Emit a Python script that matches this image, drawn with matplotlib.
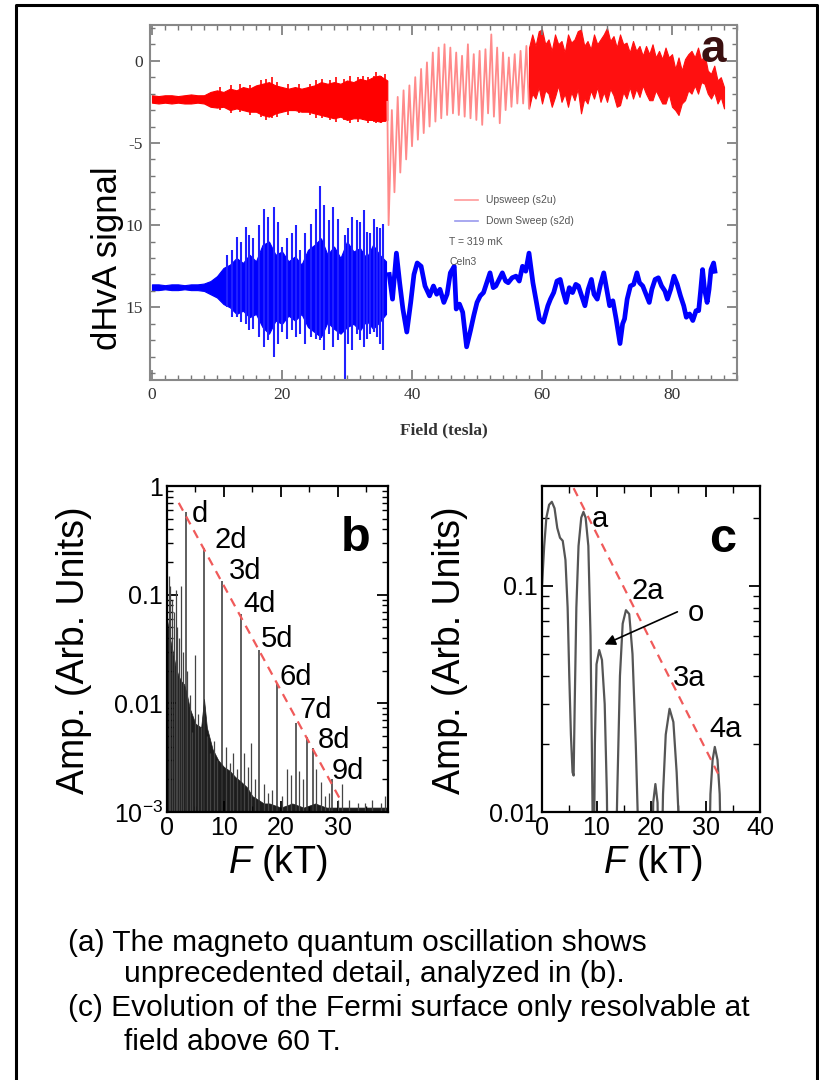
import matplotlib
matplotlib.use("Agg")
from matplotlib import pyplot as plt
from matplotlib.lines import Line2D
from matplotlib.ticker import MultipleLocator, FixedLocator, FixedFormatter, NullFormatter, LogLocator

plt.rcParams['font.family'] = ['Liberation Sans', 'DejaVu Sans']
plt.rcParams['mathtext.fontset'] = 'custom'
plt.rcParams['mathtext.rm'] = 'Liberation Sans'
plt.rcParams['mathtext.it'] = 'Liberation Sans:italic'

############### panel a : dHvA signal vs field
# upsweep, low field noisy band (envelopes)
up_low_x = [0, 1, 2, 3, 4, 5, 6, 7, 8, 9, 10, 11, 12, 13, 14, 15, 16, 17, 18, 19, 20, 21, 22, 23, 24, 25, 26,
            27, 28, 29, 30, 31, 32, 33, 34, 35, 36.2]
up_low_hi = [-2.1, -2.15, -2.1, -2.1, -2.15, -2.1, -2.05, -2.1, -2.1, -1.9, -1.8, -1.9, -1.7, -1.8, -1.6, -1.7, -1.5,
             -1.4, -1.3, -1.5, -1.6, -1.7, -1.6, -1.7, -1.6, -1.5, -1.3, -1.4, -1.3, -1.4, -1.2, -1.3, -1.1, -1.2, -1.0, -0.9, -1.2]
up_low_lo = [-2.55, -2.6, -2.55, -2.6, -2.55, -2.6, -2.6, -2.55, -2.6, -2.8, -2.85, -2.8, -3.0, -2.9, -3.0, -3.1, -3.1,
             -3.3, -3.4, -3.2, -3.1, -3.0, -3.0, -3.1, -3.1, -3.2, -3.3, -3.4, -3.5, -3.4, -3.6, -3.5, -3.5, -3.6, -3.6, -3.7, -3.6]
red_spk_x = [10.5, 12.2, 13.6, 15.1, 16.8, 17.6, 18.4, 19.3, 21.0, 22.6, 24.3, 25.2, 26.1, 27.4, 28.3, 29.6, 30.4,
             31.7, 32.5, 33.3, 34.1, 34.5, 35.2, 35.8]
red_spk_hi = [-1.6, -1.5, -1.4, -1.5, -1.2, -1.1, -1.0, -1.3, -1.4, -1.4, -1.4, -1.2, -1.1, -1.2, -1.0, -1.1, -0.9,
              -1.0, -0.9, -1.0, -0.9, -0.7, -0.9, -0.8]
red_spk_lo = [-3.0, -3.2, -3.1, -3.3, -3.4, -3.6, -3.5, -3.4, -3.3, -3.2, -3.3, -3.5, -3.5, -3.6, -3.7, -3.6, -3.8,
              -3.7, -3.6, -3.8, -3.7, -3.8, -3.8, -3.7]
# upsweep, sawtooth after the jump
pink_x = [36.2, 36.4, 36.9, 37.3, 37.8, 38.2, 38.7, 39.1, 39.6, 40.0, 40.5, 40.9, 41.4, 41.8, 42.3, 42.7,
          43.2, 43.6, 44.1, 44.5, 45.0, 45.4, 45.9, 46.3, 46.8, 47.2, 47.7, 48.1, 48.6, 49.0, 49.5, 49.9,
          50.4, 50.8, 51.3, 51.7, 52.2, 52.6, 53.1, 53.5, 54.0, 54.4, 54.9, 55.3, 55.8, 56.2, 56.7, 57.1, 57.6, 58.0]
pink_y = [-2.5, -10.0, -3.0, -8.0, -2.2, -6.8, -1.8, -6.0, -1.5, -5.2, -1.0, -4.8, -0.5, -4.4, -0.1, -4.0,
          0.5, -3.7, 0.8, -3.5, 1.0, -3.3, 0.8, -3.2, 0.5, -3.3, 0.3, -3.4, 1.0, -3.5, 0.4, -3.6,
          0.6, -3.9, 0.7, -3.2, 1.6, -3.4, 0.8, -3.8, 0.5, -3.0, 0.2, -2.8, 0.4, -2.6, 0.6, -2.6, 0.9, -2.9]
# upsweep, high field band
up_high_x = [58, 58.5, 59, 59.5, 60, 60.5, 61, 61.5, 62, 62.5, 63, 63.5, 64, 64.5, 65, 65.5, 66, 66.5, 67, 67.5,
             68, 68.5, 69, 69.5, 70, 70.5, 71, 71.5, 72, 72.5, 73, 73.5, 74, 74.5, 75, 75.5, 76, 76.5, 77, 77.5,
             78, 78.5, 79, 79.5, 80, 80.5, 81, 81.5, 82, 82.5, 83, 83.5, 84, 84.5, 85, 85.5, 86, 86.5, 87, 87.5, 88]
up_high_hi = [0.8, 1.6, 0.9, 1.8, 1.9, 1.0, 1.3, 0.6, 1.6, 1.0, 1.2, 0.5, 1.6, 1.1, 1.3, 1.8, 1.9, 0.9, 1.2, 0.7,
              1.6, 1.0, 1.3, 1.6, 2.0, 1.2, 1.5, 0.8, 1.6, 1.0, 1.1, 0.5, 1.2, 0.6, 0.9, 0.3, 0.9, 0.4, 1.0, 0.2,
              0.6, 0.1, 0.8, 0.2, 0.4, -0.5, 0.2, -0.6, 0.1, 0.4, 0.6, 0.2, 0.8, 0.0, 0.4, -0.6, -0.8, -0.3, -1.2, -1.0, -1.6]
up_high_lo = [-2.9, -2.0, -2.3, -1.6, -2.6, -1.8, -2.0, -2.8, -2.2, -1.5, -2.5, -2.0, -2.8, -1.9, -2.4, -1.7, -3.2, -2.3, -2.6, -1.8,
              -2.3, -1.6, -2.5, -1.9, -2.5, -1.7, -2.1, -2.8, -2.7, -1.9, -2.3, -1.6, -2.3, -1.7, -2.2, -1.5, -2.0, -2.4, -2.4, -1.8,
              -2.2, -2.6, -2.6, -2.0, -2.8, -3.0, -3.3, -2.6, -2.4, -1.8, -2.0, -1.5, -2.0, -1.3, -1.4, -2.0, -2.3, -1.9, -2.6, -2.2, -2.9]

# downsweep, low field core band
dn_low_x = [0, 1, 2, 3, 4, 5, 6, 7, 8, 9, 10, 11, 12, 13, 14, 15, 16, 17, 18, 19, 20, 21, 22, 23, 24, 25, 26, 27,
            28, 29, 30, 31, 32, 33, 34, 35, 36]
dn_low_hi = [-13.6, -13.6, -13.65, -13.6, -13.6, -13.65, -13.6, -13.6, -13.55, -13.4, -13.1, -12.6, -12.4, -12.0, -12.3,
             -11.8, -12.2, -11.2, -11.0, -11.8, -11.6, -12.2, -11.9, -12.4, -11.5, -11.2, -10.8, -11.8, -11.3, -12.0, -11.0,
             -11.6, -11.4, -12.0, -11.2, -11.8, -12.2]
dn_low_lo = [-13.95, -13.95, -13.9, -13.95, -13.95, -13.9, -13.95, -13.95, -14.0, -14.2, -14.4, -14.8, -15.0, -15.4, -15.2,
             -15.6, -15.4, -16.2, -16.6, -15.8, -16.0, -15.5, -15.8, -15.4, -16.2, -16.5, -16.8, -15.9, -16.3, -16.6, -16.2,
             -16.0, -16.4, -15.8, -16.3, -15.9, -15.4]
# downsweep, large excursions
spk_x = [11.5, 12.3, 13.1, 13.7, 14.4, 15.0, 15.6, 16.4, 17.3, 17.8, 18.7, 19.4, 20.0, 20.7, 21.5, 22.1, 22.8, 23.5,
         24.4, 25.2, 25.9, 26.5, 27.2, 27.9, 28.6, 29.7, 30.2, 30.8, 31.5, 32.0, 32.6, 33.1, 33.6, 34.1, 34.6, 35.1, 35.6]
spk_hi = [-11.8, -11.5, -10.7, -11.0, -10.1, -10.6, -10.8, -10.0, -9.0, -9.5, -8.9, -9.8, -11.3, -10.8, -10.5, -10.0, -11.5, -10.5,
          -9.9, -9.0, -7.6, -8.8, -9.7, -8.9, -9.6, -10.6, -10.2, -9.5, -9.7, -9.8, -9.1, -10.4, -10.5, -9.6, -10.1, -10.2, -9.9]
spk_lo = [-15.0, -15.6, -15.6, -15.9, -16.0, -16.4, -16.3, -16.8, -17.4, -17.0, -18.0, -17.2, -16.5, -16.9, -16.4, -16.8, -16.6, -17.2,
          -16.8, -16.9, -17.0, -17.6, -16.6, -17.4, -17.0, -19.4, -17.2, -17.6, -16.6, -17.0, -17.4, -16.9, -16.6, -16.5, -16.8, -17.2, -17.6]
# downsweep, high field trace
blue_x = [36.5, 37.0, 37.6, 38.1, 38.6, 39.2, 39.8, 40.3, 40.8, 41.4, 42.0, 42.7, 43.3, 43.8, 44.3, 44.9, 45.4,
          45.9, 46.5, 46.8, 47.3, 47.8, 48.4, 49.0, 49.5, 50.0, 50.5, 51.0, 51.5, 52.0, 52.5, 52.9, 53.4,
          53.9, 54.4, 54.8, 55.4, 56.0, 56.5, 57.0, 57.5, 58.0, 58.6, 59.1, 59.6, 60.2, 60.9, 61.3, 61.8,
          62.3, 62.8, 63.2, 63.7, 64.2, 64.7, 65.2, 65.6, 66.1, 66.6, 67.1, 67.6, 68.0, 68.5, 69.0, 69.5,
          70.0, 70.4, 70.9, 71.4, 72.0, 72.4, 72.7, 73.1, 73.6, 74.1, 74.6, 75.0, 75.5, 76.0, 76.5, 76.9,
          77.4, 77.9, 78.4, 78.9, 79.3, 79.8, 80.3, 80.8, 81.3, 81.8, 82.2, 82.7, 83.2, 83.7, 84.1, 84.4,
          84.7, 85.0, 85.4, 85.7, 86.0, 86.4, 86.6]
blue_y = [-13.0, -14.5, -11.7, -13.5, -15.1, -16.5, -14.7, -13.0, -12.3, -12.5, -13.7, -14.3, -13.7, -14.2, -13.9, -14.7, -14.2,
          -12.9, -12.5, -15.1, -14.8, -15.3, -17.4, -16.4, -15.5, -14.7, -14.3, -14.1, -13.5, -12.9, -13.8, -13.7, -13.3,
          -12.9, -13.4, -13.5, -13.2, -13.1, -13.4, -12.5, -12.8, -11.7, -13.5, -14.6, -15.7, -15.9, -14.9, -14.5, -14.1,
          -13.4, -13.3, -14.0, -14.7, -13.8, -14.1, -13.6, -13.7, -14.3, -14.9, -13.9, -13.3, -14.2, -14.5, -13.6, -12.9,
          -14.0, -14.9, -14.6, -15.7, -17.2, -16.0, -15.7, -14.5, -13.7, -13.6, -12.9, -13.5, -13.7, -14.2, -14.7, -13.9,
          -13.3, -13.2, -13.7, -14.0, -14.5, -13.9, -13.1, -13.6, -14.3, -14.9, -15.6, -15.4, -15.8, -15.2, -15.2, -14.0,
          -12.7, -13.9, -14.7, -13.9, -12.7, -12.3, -12.8]

############### panel b : FFT spectrum
harm_F = [3.25, 6.5, 9.7, 12.95, 16.2, 19.4, 22.6, 24.6, 25.6, 28.9]
harm_A = [0.58, 0.27, 0.135, 0.066, 0.031, 0.015, 0.0066, 0.0049, 0.0039, 0.002]
noise_F = [0.3, 0.6, 0.9, 1.2, 1.5, 1.8, 2.1, 2.5, 2.8, 3.6, 4.0, 4.4, 5.0, 5.5, 6.0, 7.0, 7.6, 8.2, 8.8,
           10.3, 11.0, 11.6, 12.3, 13.6, 14.2, 14.8, 15.4, 17.0, 17.8, 18.5, 20.2, 21.0, 21.7, 23.2, 23.8,
           26.2, 27.0, 27.8, 28.4, 30.0, 30.8, 32.0, 33.5, 34.8, 36.0, 37.5, 38.3]
noise_A = [0.15, 0.12, 0.09, 0.07, 0.11, 0.05, 0.04, 0.12, 0.03, 0.02, 0.012, 0.0055, 0.028, 0.008, 0.006, 0.005, 0.0035, 0.0045, 0.003,
           0.004, 0.0028, 0.0035, 0.0025, 0.0035, 0.0026, 0.0043, 0.002, 0.0018, 0.0015, 0.0016, 0.0014, 0.0025, 0.0022, 0.0024, 0.002,
           0.0025, 0.0019, 0.0014, 0.0015, 0.0013, 0.0018, 0.0013, 0.0012, 0.0012, 0.0013, 0.0012, 0.0014]
floor_F = [0, 0.5, 1, 1.5, 2, 2.5, 3, 3.5, 4, 5, 6, 6.5, 7, 8, 9, 10, 11, 12, 13, 14, 15, 16, 17, 18, 20, 22, 24, 26, 28, 30, 32, 34, 36, 38, 39]
floor_A = [0.06, 0.04, 0.03, 0.022, 0.018, 0.016, 0.015, 0.012, 0.009, 0.0065, 0.006, 0.011, 0.006, 0.0038, 0.003, 0.0026, 0.0024, 0.0021,
           0.0019, 0.0017, 0.0014, 0.0013, 0.0012, 0.0012, 0.0011, 0.0012, 0.0011, 0.0012, 0.0011, 0.0011, 0.0011, 0.0011, 0.0011, 0.0011, 0.0011]
b_labels = ['d', '2d', '3d', '4d', '5d', '6d', '7d', '8d', '9d']
b_lab_F = [5.8, 11.2, 13.8, 16.2, 19.4, 22.6, 26.2, 29.4, 31.8]
b_lab_A = [0.55, 0.32, 0.166, 0.082, 0.039, 0.0175, 0.0086, 0.0046, 0.0024]

############### panel c : FFT above 60 T
c_F = [0.0, 0.4, 0.8, 1.3, 1.8, 2.3, 2.8, 3.3, 3.8, 4.3, 4.7, 5.0, 5.3, 5.6, 5.8, 6.0, 6.3, 6.7, 7.2, 7.6, 8.0, 8.5, 8.9, 9.2, 9.4,
       9.5, 9.7, 10.0, 10.5, 11.0, 11.5, 11.9, 12.1,
       13.5, 13.8, 14.3, 14.8, 15.4, 16.0, 16.6, 17.2, 17.6, 17.8,
       20.2, 20.4, 20.8, 21.2, 21.4,
       21.9, 22.2, 22.7, 23.4, 24.1, 24.7, 25.1, 25.3,
       30.6, 30.9, 31.3, 31.7, 32.2, 32.6, 32.9]
c_A = [0.10, 0.15, 0.20, 0.228, 0.235, 0.22, 0.18, 0.163, 0.158, 0.13, 0.08, 0.04, 0.022, 0.015, 0.0145, 0.03, 0.08, 0.15, 0.2, 0.212, 0.2, 0.15, 0.06, 0.015, 0.005,
       0.005, 0.02, 0.045, 0.052, 0.047, 0.03, 0.012, 0.005,
       0.005, 0.012, 0.04, 0.068, 0.078, 0.075, 0.05, 0.02, 0.009, 0.005,
       0.005, 0.011, 0.0133, 0.011, 0.005,
       0.005, 0.012, 0.022, 0.0286, 0.025, 0.015, 0.009, 0.005,
       0.005, 0.012, 0.017, 0.0194, 0.017, 0.012, 0.005]
c_labels = ['a', '2a', '3a', '4a']
c_lab_F = [10.6, 19.4, 27.0, 33.6]
c_lab_A = [0.197, 0.095, 0.039, 0.0233]

caption = ["(a) The magneto quantum oscillation shows",
           "unprecedented detail, analyzed in (b).",
           "(c) Evolution of the Fermi surface only resolvable at",
           "field above 60 T."]

fig = plt.figure(figsize=(8.19, 10.8), dpi=100)

# outer frame
fig.add_artist(Line2D([0.0195, 0.0195, 0.998, 0.998], [0.0, 0.9954, 0.9954, 0.0], color='black', lw=2.2))

########## a
ax = fig.add_axes([0.1832, 0.6481, 0.7167, 0.3287])
ax.fill_between(up_low_x, up_low_lo, up_low_hi, color='#ff0000', lw=0.8)
ax.vlines(red_spk_x, red_spk_lo, red_spk_hi, color='#ff0000', lw=1.2)
ax.plot(pink_x, pink_y, color='#ff8a8a', lw=1.3)
ax.fill_between(up_high_x, up_high_lo, up_high_hi, color='#ff1010', lw=0.8)
ax.fill_between(dn_low_x, dn_low_lo, dn_low_hi, color='#0000ff', lw=0.8)
ax.vlines(spk_x, spk_lo, spk_hi, color='#2020ff', lw=1.5)
ax.plot(blue_x, blue_y, color='#0000ff', lw=3.4)

# legend drawn by hand
ax.plot([46.6, 50.2], [-8.47, -8.47], color='#ff9a9a', lw=1.2)
ax.plot([46.6, 50.2], [-9.75, -9.75], color='#9a9aee', lw=1.2)
ax.text(51.4, -8.47, 'Upsweep (s2u)', fontsize=7.5, color='#555555', va='center')
ax.text(51.4, -9.75, 'Down Sweep (s2d)', fontsize=7.5, color='#555555', va='center')
ax.text(45.7, -11.0, 'T = 319 mK', fontsize=7.5, color='#555555', va='center')
ax.text(45.7, -12.25, 'Celn3', fontsize=7.5, color='#555555', va='center')
ax.text(86.3, 0.65, 'a', fontsize=33, fontweight='bold', color='#3b1010', ha='center', va='center')

ax.set_xlim(-0.3, 90)
ax.set_ylim(-19.42, 2.17)
ax.xaxis.set_major_locator(MultipleLocator(20))
ax.xaxis.set_minor_locator(MultipleLocator(2))
ax.yaxis.set_major_locator(FixedLocator([0, -5, -10, -15]))
ax.yaxis.set_major_formatter(FixedFormatter(['0', '-5', '10', '15']))
ax.yaxis.set_minor_locator(MultipleLocator(1))
ax.tick_params(which='both', direction='in', top=True, right=True, color='#777777')
ax.tick_params(which='major', length=7, width=1.2, labelsize=12.5, labelcolor='#333333', pad=5)
ax.tick_params(which='minor', length=3.5, width=1.0)
for lab in ax.get_xticklabels() + ax.get_yticklabels():
    lab.set_family('Liberation Serif')
for s in ax.spines.values():
    s.set_color('#888888')
    s.set_linewidth(1.5)
ax.set_xlabel('Field (tesla)', family='Liberation Serif', fontweight='bold', fontsize=12.5, color='#333333', labelpad=14)
fig.text(108 / 819, 1 - 258 / 1080, 'dHvA signal', rotation=90, fontsize=25, ha='center', va='center')

########## b
bx = fig.add_axes([0.2039, 0.2481, 0.2698, 0.3019])
bx.set_yscale('log')
bx.fill_between(floor_F, 1e-4, floor_A, color='#1c1c1c', lw=0.5)
bx.vlines(noise_F, 1e-4, noise_A, color='#444444', lw=0.9)
bx.vlines(harm_F, 1e-4, harm_A, color='#333333', lw=1.1)
bx.plot([2.06, 30.3], [0.70, 0.00134], color='#f05a5a', lw=1.6, dashes=(4, 3))
for lab, f, a in zip(b_labels, b_lab_F, b_lab_A):
    bx.text(f, a, lab, fontsize=21, ha='center', va='center')
bx.text(33.2, 0.33, 'b', fontsize=35, fontweight='bold', ha='center', va='center')
bx.set_xlim(0, 38.8)
bx.set_ylim(1e-3, 1)
bx.xaxis.set_major_locator(MultipleLocator(10))
bx.xaxis.set_minor_locator(MultipleLocator(5))
bx.yaxis.set_major_locator(FixedLocator([1e-3, 1e-2, 1e-1, 1]))
bx.yaxis.set_major_formatter(FixedFormatter([r'$\mathregular{10^{-3}}$', '0.01', '0.1', '1']))
bx.yaxis.set_minor_locator(LogLocator(base=10, subs=range(2, 10)))
bx.yaxis.set_minor_formatter(NullFormatter())
bx.tick_params(which='both', direction='in', top=True, right=True)
bx.tick_params(which='major', length=8, width=1.3, labelsize=18, pad=3)
bx.tick_params(which='minor', length=4, width=1.0)
for s in bx.spines.values():
    s.set_linewidth(1.6)
bx.set_xlabel(r'$\mathit{F}$ (kT)', fontsize=27)
bx.set_ylabel('Amp. (Arb. Units)', fontsize=27)
bx.xaxis.set_label_coords(0.5, -0.095)
bx.yaxis.set_label_coords(-0.34, 0.497)

########## c
cx = fig.add_axes([0.6618, 0.2481, 0.2662, 0.3019])
cx.set_yscale('log')
cx.plot(c_F, c_A, color='#555555', lw=1.6)
cx.plot([5.8, 32.6], [0.27, 0.0143], color='#f05a5a', lw=1.6, dashes=(4, 3))
for lab, f, a in zip(c_labels, c_lab_F, c_lab_A):
    cx.text(f, a, lab, fontsize=21, ha='center', va='center')
cx.text(28.2, 0.076, 'o', fontsize=21, ha='center', va='center')
cx.annotate('', xy=(11.0, 0.0544), xytext=(25.3, 0.0776),
            arrowprops=dict(arrowstyle='-|>', color='black', lw=1.2, mutation_scale=16))
cx.text(33.2, 0.16, 'c', fontsize=35, fontweight='bold', ha='center', va='center')
cx.set_xlim(0, 40)
cx.set_ylim(0.01, 0.276)
cx.xaxis.set_major_locator(MultipleLocator(10))
cx.xaxis.set_minor_locator(MultipleLocator(5))
cx.yaxis.set_major_locator(FixedLocator([0.01, 0.1]))
cx.yaxis.set_major_formatter(FixedFormatter(['0.01', '0.1']))
cx.yaxis.set_minor_locator(LogLocator(base=10, subs=range(2, 10)))
cx.yaxis.set_minor_formatter(NullFormatter())
cx.tick_params(which='both', direction='in', top=True, right=True)
cx.tick_params(which='major', length=8, width=1.3, labelsize=18, pad=3)
cx.tick_params(which='minor', length=5, width=1.0)
for s in cx.spines.values():
    s.set_linewidth(1.6)
cx.set_xlabel(r'$\mathit{F}$ (kT)', fontsize=27)
cx.set_ylabel('Amp. (Arb. Units)', fontsize=27)
cx.xaxis.set_label_coords(0.51, -0.095)
cx.yaxis.set_label_coords(-0.34, 0.497)

########## caption
cap_x = [68 / 819, 124 / 819, 68 / 819, 124 / 819]
cap_y = [943, 974, 1008, 1042]
for t, xx, yy in zip(caption, cap_x, cap_y):
    fig.text(xx, 1 - yy / 1080, t, fontsize=21.5, va='center', ha='left')

plt.savefig("out.png", dpi=100)
